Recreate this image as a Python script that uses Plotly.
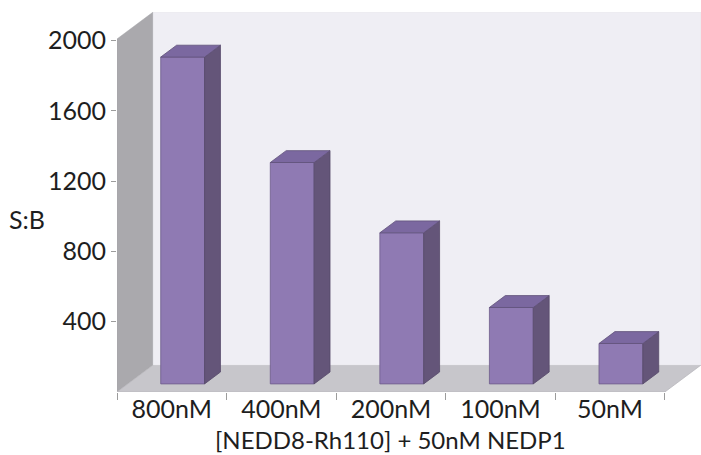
import plotly.graph_objects as go

# Signal-to-background ratio for each substrate concentration
categories = ["800nM", "400nM", "200nM", "100nM", "50nM"]
sb_ratio = [1860, 1260, 860, 435, 230]
y_ticks = [400, 800, 1200, 1600, 2000]
x_title = "[NEDD8-Rh110] + 50nM NEDP1"
y_title = "S:B"

# Pseudo-3D box: depth offset expressed in axis units
DEPTH_X = 0.33
DEPTH_Y = 153.6
WALL_TOP = 2009
BAR_W = 0.40
BAR_FRONT, BAR_BACK = 0.30, 0.74

FONT = "Lato, 'Open Sans', sans-serif"
TEXT = "#1e1e1e"
TICK = "#9c9c9c"

n = len(categories)
x_lo, x_hi = -0.5, n - 0.5


def at_depth(x, y, f):
    return (x + f * DEPTH_X, y + f * DEPTH_Y)


def polygon(points, fill, line=None, width=0):
    xs = [p[0] for p in points] + [points[0][0]]
    ys = [p[1] for p in points] + [points[0][1]]
    return go.Scatter(
        x=xs, y=ys, mode="lines", fill="toself", fillcolor=fill,
        line=dict(color=line or fill, width=width),
        hoverinfo="skip", showlegend=False,
    )


traces = []

# left side wall
traces.append(polygon([
    (x_lo, 0), (x_lo, WALL_TOP),
    at_depth(x_lo, WALL_TOP, 1), at_depth(x_lo, 0, 1),
], "#aaa9ad", "#a3a2a6", 0.5))

# floor
traces.append(polygon([
    (x_lo, 0), (x_hi, 0), at_depth(x_hi, 0, 1), at_depth(x_lo, 0, 1),
], "#c7c6cb", "#b9b8bc", 0.8))

# back wall
traces.append(polygon([
    at_depth(x_lo, 0, 1), at_depth(x_hi, 0, 1),
    at_depth(x_hi, WALL_TOP, 1), at_depth(x_lo, WALL_TOP, 1),
], "#efeef4", "#e6e5ea", 0.5))

# 3-D columns
for i, v in enumerate(sb_ratio):
    x0, x1 = i - BAR_W / 2, i + BAR_W / 2
    front = [at_depth(x0, 0, BAR_FRONT), at_depth(x1, 0, BAR_FRONT),
             at_depth(x1, v, BAR_FRONT), at_depth(x0, v, BAR_FRONT)]
    side = [at_depth(x1, 0, BAR_FRONT), at_depth(x1, 0, BAR_BACK),
            at_depth(x1, v, BAR_BACK), at_depth(x1, v, BAR_FRONT)]
    top = [at_depth(x0, v, BAR_FRONT), at_depth(x1, v, BAR_FRONT),
           at_depth(x1, v, BAR_BACK), at_depth(x0, v, BAR_BACK)]
    traces.append(polygon(front, "#8f7ab3", "#6d5c8a", 0.8))
    traces.append(polygon(side, "#645579", "#56496a", 0.8))
    traces.append(polygon(top, "#7b68a0", "#5f5079", 0.8))

# carrier for the boundary-tick axis
traces.append(go.Scatter(x=[x_lo], y=[0], xaxis="x2", mode="markers",
                         marker=dict(opacity=0), hoverinfo="skip",
                         showlegend=False))

fig = go.Figure(traces)

x_range = [x_lo, x_hi + DEPTH_X]
fig.update_layout(
    width=701, height=455,
    margin=dict(l=117, r=0, t=12, b=63),
    paper_bgcolor="white", plot_bgcolor="white",
    font=dict(family=FONT, color=TEXT, size=25),
    xaxis=dict(
        range=x_range, tickvals=list(range(n)), ticktext=categories,
        ticks="", showgrid=False, zeroline=False, showline=False,
        tickfont=dict(size=25, color=TEXT), ticklabelstandoff=0,
        fixedrange=True,
    ),
    xaxis2=dict(
        range=x_range, overlaying="x", anchor="y", side="bottom",
        tickvals=[x_lo + k for k in range(n + 1)], ticks="outside",
        ticklen=7, tickwidth=1, tickcolor=TICK, showticklabels=False,
        showgrid=False, zeroline=False, showline=False, fixedrange=True,
    ),
    yaxis=dict(
        range=[0, WALL_TOP + DEPTH_Y], tickvals=y_ticks,
        ticks="outside", ticklen=5, tickwidth=1, tickcolor=TICK,
        showgrid=False, zeroline=False, showline=False,
        tickfont=dict(size=25, color=TEXT), fixedrange=True,
    ),
    annotations=[
        dict(text=y_title, xref="paper", yref="paper", x=-0.154, y=0.455,
             xanchor="center", yanchor="middle", showarrow=False,
             font=dict(size=25, color=TEXT)),
        dict(text=x_title, xref="x", yref="paper", x=2, y=-0.1237,
             xanchor="center", yanchor="middle", showarrow=False,
             font=dict(size=24, color=TEXT)),
    ],
)

fig.write_html("out.html")
